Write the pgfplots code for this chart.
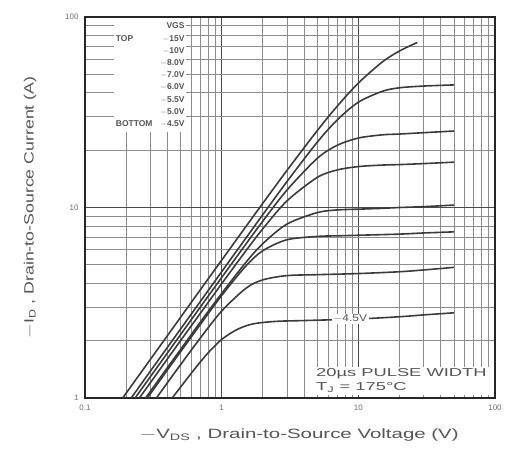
\documentclass[border=0pt]{standalone}
\usepackage{pgfplots}
\pgfplotsset{compat=1.18}
\usepackage{graphicx}
\usepackage{fontspec}
\setmainfont{Liberation Sans}
\definecolor{curve}{HTML}{3A3A3A}
\definecolor{gridmaj}{HTML}{4A4A4A}
\definecolor{gridmin}{HTML}{8C8C8C}
\definecolor{txt}{HTML}{6E6E6E}
\definecolor{lbl}{HTML}{555555}
\pgfplotsset{mycurve/.style={draw=curve, line width=1.6pt, mark=none, solid, smooth, tension=0.5}}
\begin{document}
\begin{tikzpicture}
\begin{axis}[
  at={(0,0)}, anchor=south west,
  scale only axis, width=410bp, height=381bp,
  xmode=log, ymode=log,
  xmin=0.1, xmax=100, ymin=1, ymax=100,
  xtick={0.1,1,10,100}, xticklabels={0.1,1,10,100},
  ytick={1,10,100}, yticklabels={1,10,100},
  minor xtick={0.2,0.3,0.4,0.5,0.6,0.7,0.8,0.9,2,3,4,5,6,7,8,9,20,30,40,50,60,70,80,90},
  minor ytick={2,3,4,5,6,7,8,9,20,30,40,50,60,70,80,90},
  grid=both,
  major grid style={gridmaj, line width=1.2pt},
  minor grid style={gridmin, line width=0.7pt},
  axis line style={black!85, line width=1.6pt},
  major tick length=0pt, minor tick length=0pt,
  /pgf/number format/assume math mode=true,
  ticklabel style={font=\fontsize{8}{9}\selectfont, text=txt},
  xticklabel style={yshift=-3bp},
  yticklabel style={xshift=-3bp},
  xlabel={\scalebox{1.52}[1]{$-$V\textsubscript{DS} , Drain-to-Source Voltage (V)}},
  ylabel={\scalebox{1.32}[1]{$-$I\textsubscript{D} , Drain-to-Source Current (A)}},
  label style={font=\fontsize{13.5}{15}\selectfont, text=lbl},
  xlabel style={at={(axis description cs:0.522,-0.097)}, anchor=center},
  ylabel style={at={(axis description cs:-0.134,0.5)}, anchor=center},
  clip=true,
]
% 15V
\addplot[mycurve] coordinates {(0.18,0.95)(0.2,1.06)(0.3,1.59)(0.5,2.65)(0.7,3.71)(1,5.29)(1.5,7.92)(2,10.52)(3,15.63)(5,25.3)(7,34.0)(10,45.0)(15,58.1)(20,66.3)(27,73.5)};
% 10V
\addplot[mycurve] coordinates {(0.2,0.92)(0.22,1.01)(0.3,1.38)(0.5,2.3)(0.7,3.22)(1,4.6)(1.5,6.89)(2,9.17)(3,13.66)(5,22.0)(7,28.8)(10,35.7)(15,40.75)(20,42.5)(30,43.4)(50,44.0)};
% 8V
\addplot[mycurve] coordinates {(0.23,0.99)(0.25,1.075)(0.3,1.29)(0.5,2.15)(0.7,3.01)(1,4.29)(1.5,6.41)(2,8.48)(3,12.33)(5,18.1)(7,21.2)(10,23.15)(15,24.07)(20,24.3)(30,24.7)(50,25.2)};
% 7V
\addplot[mycurve] coordinates {(0.25,1.0)(0.3,1.2)(0.5,2.0)(0.7,2.79)(1,3.98)(1.5,5.91)(2,7.73)(3,10.82)(5,14.38)(7,15.74)(10,16.4)(15,16.7)(20,16.8)(30,17.0)(50,17.3)};
% 6V
\addplot[mycurve] coordinates {(0.27,0.97)(0.3,1.08)(0.4,1.44)(0.5,1.796)(0.7,2.51)(1,3.54)(1.5,5.14)(2,6.46)(3,8.18)(5,9.4)(7,9.71)(10,9.8)(15,9.9)(20,10.0)(30,10.1)(50,10.3)};
% 5.5V
\addplot[mycurve] coordinates {(0.28,0.98)(0.3,1.05)(0.4,1.4)(0.5,1.748)(0.7,2.44)(1,3.45)(1.5,4.92)(2,5.93)(3,6.77)(5,7.05)(7,7.1)(10,7.15)(20,7.25)(30,7.35)(50,7.45)};
% 5V
\addplot[mycurve] coordinates {(0.33,0.99)(0.4,1.2)(0.5,1.495)(0.7,2.07)(1,2.86)(1.5,3.76)(2,4.17)(3,4.39)(5,4.44)(10,4.5)(20,4.6)(30,4.7)(50,4.85)};
% 4.5V
\addplot[mycurve] coordinates {(0.43,0.99)(0.5,1.14)(0.6,1.35)(0.7,1.55)(0.8,1.733)(1,2.03)(1.3,2.29)(1.7,2.45)(2.5,2.525)(4,2.55)(10,2.6)(20,2.67)(30,2.73)(50,2.8)};
% curve label
\node[fill=white, inner sep=1.5bp, text=lbl, font=\fontsize{10}{11}\selectfont] at (axis cs:8.7,2.6) {\scalebox{1.2}[1]{$-$4.5V}};
% legend block
\node[fill=white, anchor=north east, inner sep=2bp, text=lbl, font=\fontsize{8.5}{12.25}\selectfont\bfseries] at (axis description cs:0.248,0.997)
{\begin{tabular}{@{}l@{\hspace{8bp}}r@{}}
 & VGS\\
TOP & $-$15V\\
 & $-$10V\\
 & $-$8.0V\\
 & $-$7.0V\\
 & $-$6.0V\\
 & $-$5.5V\\
 & $-$5.0V\\
BOTTOM & $-$4.5V
\end{tabular}};
% test conditions
\node[fill=white, anchor=south east, inner sep=2bp, text=lbl, font=\fontsize{11.5}{14}\selectfont, align=left] at (axis description cs:0.985,0.008)
{\scalebox{1.6}[1]{20µs PULSE WIDTH}\\ \scalebox{1.6}[1]{T\textsubscript{J} = 175°C}};
\end{axis}
\path[use as bounding box] (-85bp,-60bp) rectangle (430bp,398bp);
\end{tikzpicture}
\end{document}
